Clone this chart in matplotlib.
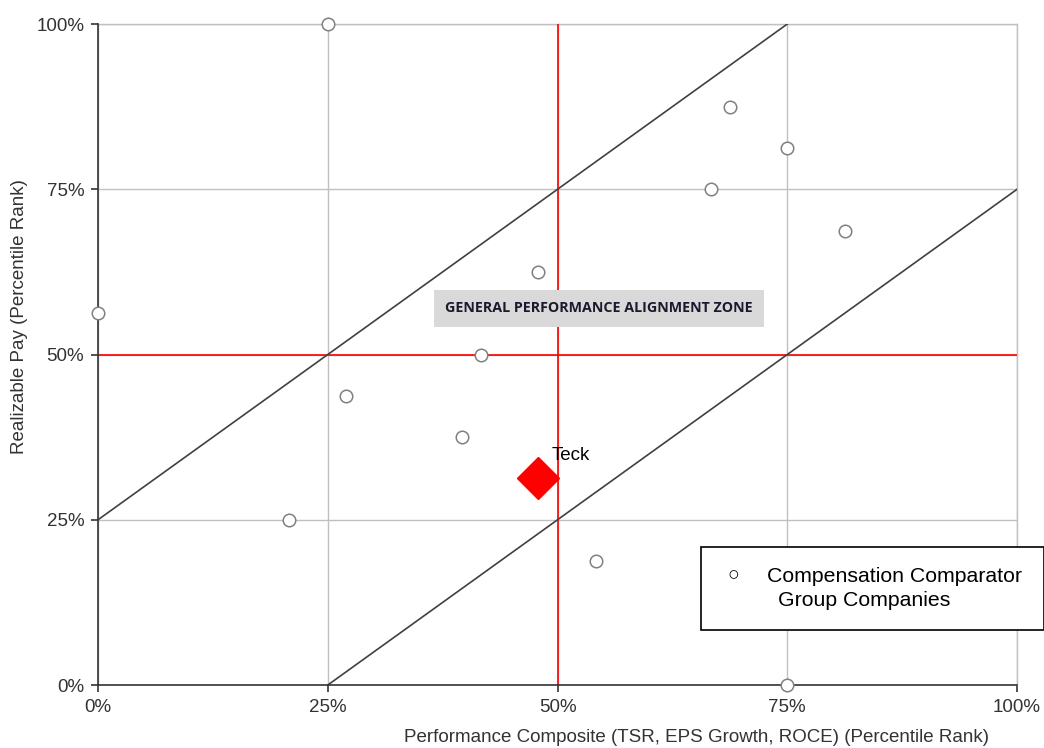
import matplotlib.pyplot as plt
from matplotlib.ticker import PercentFormatter

plt.rcParams['font.family'] = ['Liberation Sans', 'DejaVu Sans']

# peer companies (performance pct rank, realizable pay pct rank)
peer_x = [0.0, 25.0, 20.8, 27.0, 39.6, 41.7, 47.9, 54.2, 66.7, 68.75, 75.0, 81.25, 75.0]
peer_y = [56.25, 100.0, 25.0, 43.75, 37.5, 50.0, 62.5, 18.75, 75.0, 87.5, 81.25, 68.75, 0.0]

teck_x = [47.9]
teck_y = [31.25]

# alignment zone boundaries
upper_x = [0, 75]
upper_y = [25, 100]
lower_x = [25, 100]
lower_y = [0, 75]

ticks = [0, 25, 50, 75, 100]

fig = plt.figure(figsize=(10.44, 7.48), dpi=100)
ax = fig.add_axes([0.0939, 0.0842, 0.8803, 0.8837])

ax.set_xlim(0, 100)
ax.set_ylim(0, 100)
ax.set_xticks(ticks)
ax.set_yticks(ticks)
ax.xaxis.set_major_formatter(PercentFormatter(decimals=0))
ax.yaxis.set_major_formatter(PercentFormatter(decimals=0))
ax.tick_params(labelsize=13.5, colors='#333333', length=5, width=1.2, pad=5)

ax.grid(True, color='#c0c0c0', linewidth=1)
ax.set_axisbelow(True)
ax.axvline(100, color='#c0c0c0', linewidth=1, clip_on=False, zorder=1)
ax.axhline(100, color='#c0c0c0', linewidth=1, clip_on=False, zorder=1)
for s in ['top', 'right']:
    ax.spines[s].set_visible(False)
for s in ['left', 'bottom']:
    ax.spines[s].set_color('#333333')
    ax.spines[s].set_linewidth(1.2)

ax.axvline(50, color='#ff0000', linewidth=1.2, zorder=2)
ax.axhline(50, color='#ff0000', linewidth=1.2, zorder=2)

ax.plot(upper_x, upper_y, color='#404040', linewidth=1.2, zorder=2)
ax.plot(lower_x, lower_y, color='#404040', linewidth=1.2, zorder=2)

ax.plot(peer_x, peer_y, 'o', markersize=9, markerfacecolor='white',
        markeredgecolor='#808080', markeredgewidth=1.1, linestyle='none',
        zorder=4, clip_on=False)
ax.plot(teck_x, teck_y, 'D', markersize=21, color='#ff0000', zorder=5)
ax.text(49.4, 34.0, "Teck", fontsize=13.5, color='black', zorder=6)

ax.text(54.5, 57.0, "GENERAL PERFORMANCE ALIGNMENT ZONE", fontsize=10.3,
        fontweight='bold', family=['Open Sans', 'DejaVu Sans'],
        color='#1a1a2e', ha='center', va='center', zorder=6,
        bbox=dict(boxstyle='square,pad=0.8', facecolor='#d9d9d9',
                  edgecolor='none'))

# legend box
fig.patches.append(plt.Rectangle((701 / 1044, 1 - 630 / 748), 343 / 1044, 83 / 748,
                                 transform=fig.transFigure, facecolor='white',
                                 edgecolor='black', linewidth=1.2, zorder=10))
fig.text(733 / 1044, 1 - 576 / 748, "\u25cb", fontsize=14, ha='center',
         va='center', zorder=11)
fig.text(767 / 1044, 1 - 576 / 748, "Compensation Comparator", fontsize=15.3,
         va='center', zorder=11)
fig.text(778 / 1044, 1 - 601 / 748, "Group Companies", fontsize=15.3,
         va='center', zorder=11)

fig.text(697 / 1044, 1 - 738 / 748,
         "Performance Composite (TSR, EPS Growth, ROCE) (Percentile Rank)",
         fontsize=13.5, color='#333333', ha='center', va='center')
fig.text(20 / 1044, 1 - 317 / 748, "Realizable Pay (Percentile Rank)",
         fontsize=13.5, color='#333333', ha='center', va='center', rotation=90)

fig.savefig("out.png", dpi=100)
